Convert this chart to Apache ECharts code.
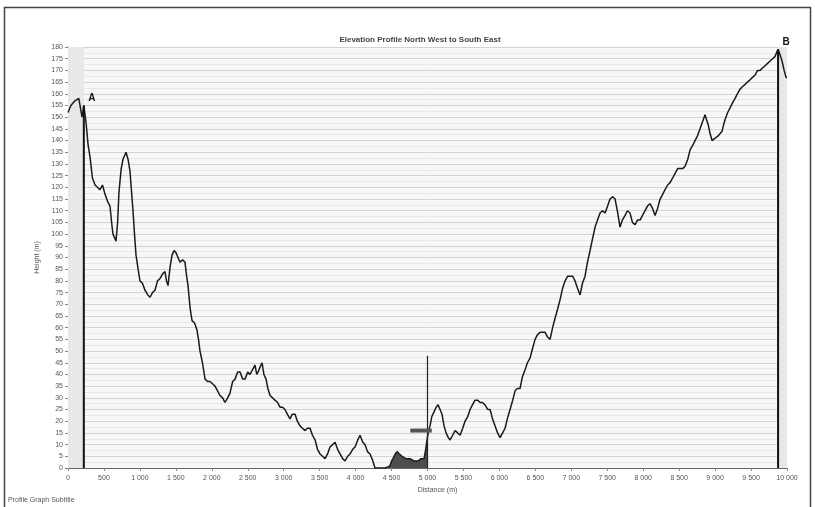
<!DOCTYPE html>
<html>
<head>
<meta charset="utf-8">
<script src="https://cdn.jsdelivr.net/npm/echarts@6/dist/echarts.min.js"></script>
<style>
  html, body { margin: 0; padding: 0; background: #ffffff; }
  #chart { width: 815px; height: 507px; }
</style>
</head>
<body>
<div id="chart"></div>
<script>
// Ground profile: distance along the section (m) and terrain height (m)
const distance = [
  0, 40, 97, 150, 195, 220, 250, 280, 306, 340, 376, 445, 480, 515, 550, 584, 610, 626, 668, 690,
  709, 740, 765, 807, 835, 862, 884, 904, 925, 946, 975, 1001, 1035, 1071, 1110, 1141, 1175, 1210, 1245, 1280,
  1315, 1349, 1370, 1391, 1420, 1447, 1475, 1502, 1530, 1558, 1595, 1627, 1650, 1669, 1700, 1725, 1760, 1794, 1815, 1836,
  1870, 1906, 1940, 1975, 2010, 2045, 2080, 2114, 2150, 2184, 2220, 2253, 2290, 2323, 2360, 2393, 2430, 2462, 2500, 2532,
  2565, 2601, 2625, 2643, 2670, 2699, 2725, 2754, 2780, 2810, 2845, 2879, 2915, 2949, 2985, 3018, 3050, 3088, 3120, 3158,
  3190, 3227, 3260, 3297, 3330, 3366, 3400, 3436, 3470, 3505, 3540, 3575, 3610, 3644, 3680, 3714, 3750, 3784, 3820, 3853,
  3890, 3923, 3960, 3992, 4030, 4062, 4100, 4131, 4165, 4201, 4240, 4270, 4340, 4409, 4450, 4479, 4500, 4521, 4550, 4576,
  4610, 4646, 4700, 4757, 4810, 4869, 4910, 4952, 4975, 4994, 5015, 5035, 5060, 5091, 5120, 5147, 5175, 5202, 5230, 5258,
  5290, 5314, 5350, 5383, 5420, 5453, 5490, 5522, 5560, 5592, 5625, 5661, 5700, 5731, 5765, 5800, 5840, 5870, 5905, 5940,
  5975, 6009, 6045, 6079, 6110, 6148, 6185, 6218, 6250, 6287, 6320, 6357, 6390, 6426, 6460, 6496, 6530, 6565, 6600, 6635,
  6670, 6705, 6740, 6774, 6810, 6844, 6880, 6913, 6950, 6983, 7020, 7052, 7085, 7122, 7155, 7191, 7225, 7261, 7295, 7331,
  7365, 7400, 7435, 7470, 7505, 7539, 7575, 7609, 7640, 7678, 7710, 7748, 7780, 7817, 7850, 7887, 7920, 7956, 7990, 8026,
  8060, 8095, 8130, 8165, 8200, 8235, 8270, 8304, 8340, 8374, 8410, 8443, 8480, 8513, 8550, 8582, 8620, 8652, 8690, 8721,
  8755, 8791, 8825, 8860, 8880, 8902, 8930, 8958, 9000, 9041, 9070, 9097, 9120, 9139, 9175, 9208, 9240, 9278, 9310, 9347,
  9380, 9417, 9450, 9486, 9520, 9556, 9590, 9625, 9660, 9695, 9730, 9765, 9800, 9834, 9860, 9876, 9900, 9931, 9960, 9987,
  10000
];
const elevation = [
  152, 155, 157, 158, 150, 155, 148, 138, 133, 124, 121, 119, 121, 117, 114, 112, 104, 100, 97, 105,
  118, 128, 132, 135, 132, 127, 118, 110, 100, 91, 85, 80, 79, 76, 74, 73, 75, 76, 80, 81,
  83, 84, 80, 78, 86, 91, 93, 92, 90, 88, 89, 88, 82, 78, 68, 63, 62, 59, 55, 50,
  45, 38, 37, 37, 36, 35, 33, 31, 30, 28, 30, 32, 37, 38, 41, 41, 38, 38, 41, 40,
  42, 44, 40, 41, 43, 45, 40, 38, 34, 31, 30, 29, 28, 26, 26, 25, 23, 21, 23, 23,
  20, 18, 17, 16, 17, 17, 14, 12, 8, 6, 5, 4, 6, 9, 10, 11, 8, 6, 4, 3,
  5, 6, 8, 9, 12, 14, 11, 10, 7, 6, 3, 0, 0, 0, 0.5, 1, 3, 4, 6, 7,
  6, 5, 4, 4, 3, 3, 4, 4, 8, 12, 16, 18, 22, 24, 26, 27, 25, 23, 18, 15,
  13, 12, 14, 16, 15, 14, 17, 20, 22, 25, 27, 29, 29, 28, 28, 27, 25, 25, 21, 18,
  15, 13, 15, 17, 21, 25, 29, 33, 34, 34, 39, 42, 45, 47, 51, 55, 57, 58, 58, 58,
  56, 55, 60, 64, 68, 72, 77, 80, 82, 82, 82, 80, 77, 74, 79, 82, 88, 93, 98, 103,
  106, 109, 110, 109, 112, 115, 116, 115, 110, 103, 106, 108, 110, 109, 105, 104, 106, 106, 108, 110,
  112, 113, 111, 108, 111, 115, 117, 119, 121, 122, 124, 126, 128, 128, 128, 129, 132, 136, 138, 140,
  142, 145, 148, 151, 149, 147, 143, 140, 141, 142, 143, 144, 147, 149, 152, 154, 156, 158, 160, 162,
  163, 164, 165, 166, 167, 168, 170, 170, 171, 172, 173, 174, 175, 176, 178, 179, 177, 174, 170, 167,
  167
];

// Axis tick values
const distanceTicks = [0, 500, 1000, 1500, 2000, 2500, 3000, 3500, 4000, 4500, 5000, 5500, 6000, 6500, 7000, 7500, 8000, 8500, 9000, 9500, 10000];
const heightTicks = [0, 5, 10, 15, 20, 25, 30, 35, 40, 45, 50, 55, 60, 65, 70, 75, 80, 85, 90, 95, 100, 105, 110, 115, 120, 125, 130, 135, 140, 145, 150, 155, 160, 165, 170, 175, 180];

// Section end points
const endNames = ['A', 'B'];
const endDistances = [220, 9876];

// Selected stretch of the section (shaded) and the cursor
const selectionRange = [4450, 4994];
const cursorDistance = 5000;
const cursorHeight = 48;
const cursorBarRange = [4760, 5060];
const cursorBarHeight = 16;

const profile = distance.map((d, i) => [d, elevation[i]]);
const selection = profile.filter(p => p[0] >= selectionRange[0] && p[0] <= selectionRange[1]);

function heightAt(d) {
  for (let i = 1; i < distance.length; i++) {
    if (distance[i] >= d) {
      const t = (d - distance[i - 1]) / (distance[i] - distance[i - 1]);
      return elevation[i - 1] + t * (elevation[i] - elevation[i - 1]);
    }
  }
  return elevation[elevation.length - 1];
}

function spaced(v) {
  return String(v).replace(/\B(?=(\d{3})+(?!\d))/g, ' ');
}

const FONT = 'Liberation Sans';

const endSeries = endNames.map((name, k) => ({
  type: 'line',
  name: 'end' + name,
  data: [[endDistances[k], 0], [endDistances[k], heightAt(endDistances[k])]],
  symbol: 'none',
  silent: true,
  z: 6,
  lineStyle: { color: '#111', width: 2 },
  endLabel: {
    show: true,
    formatter: name,
    position: 'top',
    offset: [0, -7],
    align: 'center',
    fontFamily: FONT,
    fontWeight: 'bold',
    fontSize: 10,
    color: '#111'
  }
}));

const chart = echarts.init(document.getElementById('chart'), null, { renderer: 'canvas' });

chart.setOption({
  animation: false,
  backgroundColor: '#ffffff',
  title: {
    text: 'Elevation Profile North West to South East',
    left: 415,
    top: 31,
    textAlign: 'center',
    textStyle: { fontFamily: FONT, fontSize: 8, fontWeight: 'bold', color: '#444' }
  },
  grid: {
    left: 68, right: 28, top: 47, bottom: 39,
    show: true, backgroundColor: '#f7f7f7', borderWidth: 0
  },
  xAxis: {
    type: 'value',
    min: distanceTicks[0],
    max: distanceTicks[distanceTicks.length - 1],
    interval: distanceTicks[1] - distanceTicks[0],
    name: 'Distance (m)',
    nameLocation: 'middle',
    nameGap: 19,
    nameTextStyle: { fontFamily: FONT, fontSize: 7, color: '#555', padding: [0, 0, 0, 20] },
    axisLine: { lineStyle: { color: '#666', width: 1 } },
    axisTick: { show: true, length: 3, lineStyle: { color: '#888' } },
    axisLabel: { fontFamily: FONT, fontSize: 7, color: '#555', margin: 7, formatter: v => spaced(v) },
    splitLine: { show: false }
  },
  yAxis: {
    type: 'value',
    min: heightTicks[0],
    max: heightTicks[heightTicks.length - 1],
    interval: heightTicks[1] - heightTicks[0],
    name: 'Height (m)',
    nameLocation: 'middle',
    nameGap: 24,
    nameTextStyle: { fontFamily: FONT, fontSize: 7, color: '#555' },
    axisLine: { show: true, lineStyle: { color: '#666', width: 1 } },
    axisTick: { show: true, length: 3, lineStyle: { color: '#888' } },
    axisLabel: { fontFamily: FONT, fontSize: 7, color: '#555', margin: 5 },
    splitLine: { show: true, lineStyle: { color: '#d4d4d4', width: 1 } },
    minorTick: { show: false, splitNumber: 2 },
    minorSplitLine: { show: true, lineStyle: { color: '#e8e8e8', width: 1 } }
  },
  graphic: [
    {
      type: 'rect',
      shape: { x: 4.5, y: 7.5, width: 806, height: 510 },
      style: { fill: 'none', stroke: '#444', lineWidth: 1.5 },
      silent: true
    },
    {
      type: 'text',
      left: 8,
      top: 497,
      style: { text: 'Profile Graph Subtitle', fontFamily: FONT, fontSize: 7, fill: '#555' }
    }
  ],
  series: [
    {
      type: 'line',
      name: 'profile',
      data: profile,
      symbol: 'none',
      z: 4,
      lineStyle: { color: '#1a1a1a', width: 1.5 },
      markArea: {
        silent: true,
        itemStyle: { color: '#e8e8e8' },
        data: [
          [{ xAxis: distanceTicks[0] }, { xAxis: endDistances[0] }],
          [{ xAxis: endDistances[1] }, { xAxis: distanceTicks[distanceTicks.length - 1] }]
        ]
      }
    },
    {
      type: 'line',
      name: 'selection',
      data: selection,
      symbol: 'none',
      silent: true,
      z: 3,
      lineStyle: { width: 0 },
      areaStyle: { color: '#4d4d4d', opacity: 1, origin: 'start' }
    },
    {
      type: 'line',
      name: 'cursor',
      data: [[cursorDistance, 0], [cursorDistance, cursorHeight]],
      symbol: 'none',
      silent: true,
      z: 5,
      lineStyle: { color: '#222', width: 1.2 }
    },
    {
      type: 'line',
      name: 'cursorBar',
      data: [[cursorBarRange[0], cursorBarHeight], [cursorBarRange[1], cursorBarHeight]],
      symbol: 'none',
      silent: true,
      z: 5,
      lineStyle: { color: '#555', width: 4 }
    },
    ...endSeries
  ]
});
</script>
</body>
</html>
